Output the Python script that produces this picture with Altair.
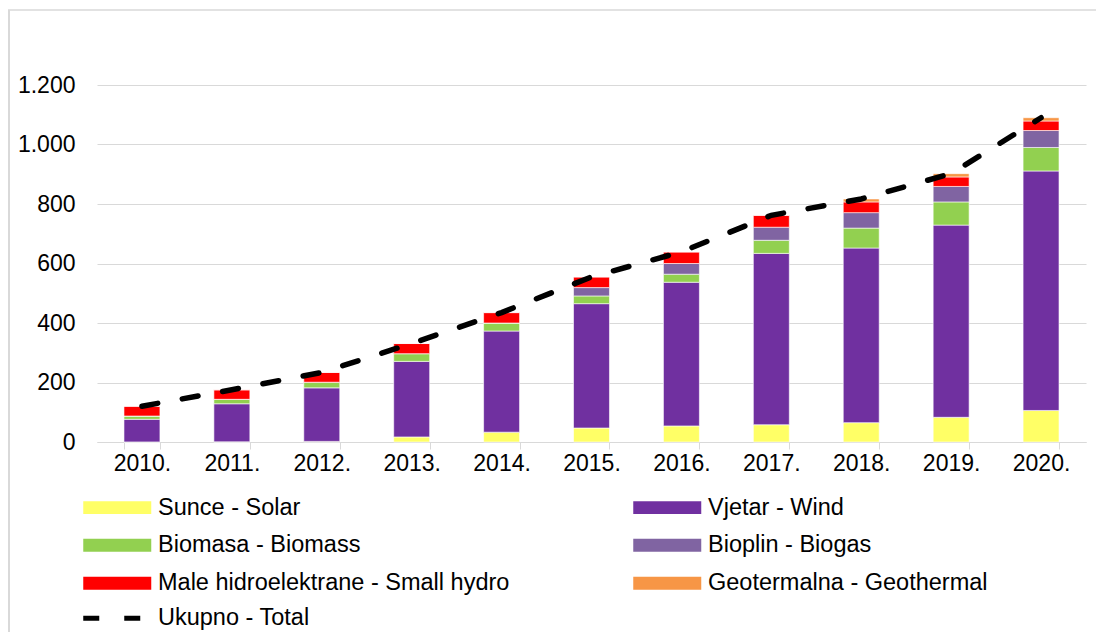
import altair as alt
import pandas as pd

years = ["2010.", "2011.", "2012.", "2013.", "2014.", "2015.", "2016.", "2017.", "2018.", "2019.", "2020."]
series = ["Sunce - Solar", "Vjetar - Wind", "Biomasa - Biomass", "Bioplin - Biogas",
          "Male hidroelektrane - Small hydro", "Geotermalna - Geothermal"]
colors = ["#FFFF66", "#7030A0", "#92D050", "#8064A2", "#FF0000", "#F79646"]

solar = [0.3, 0.5, 2, 17, 33, 47, 54, 58, 65, 83, 106]
wind = [76, 128, 180, 254, 340, 418, 483, 576, 587, 646, 805]
biomass = [11, 15, 19, 26, 27, 26, 27, 44, 67, 78, 79]
biogas = [0, 0, 0, 0, 0, 28, 36, 44, 52, 52, 57]
hydro = [33, 32, 33, 34, 35, 36, 39, 40, 36, 32, 32]
geothermal = [0, 0, 0, 0, 0, 0, 0, 0, 10, 11, 11]
total_label = "Ukupno - Total"

values = [solar, wind, biomass, biogas, hydro, geothermal]
rows = []
for si, (name, vals) in enumerate(zip(series, values)):
    for yi, y in enumerate(years):
        rows.append({"year": y, "series": name, "value": vals[yi], "idx": si})
df = pd.DataFrame(rows)

totals = [sum(v[i] for v in values) for i in range(len(years))]
tdf = pd.DataFrame({"year": years, "total": totals, "kind": [total_label] * len(years)})

# legend is filled column by column: put the reference's row-major order into columns
legend_order = [0, 2, 4, 1, 3, 5]
leg_domain = [series[i] for i in legend_order]
leg_range = [colors[i] for i in legend_order]

FONT = "Liberation Sans"
GRID = "#d9d9d9"

x_enc = alt.X("year:N", sort=years, title=None,
              scale=alt.Scale(paddingInner=0.6, paddingOuter=0.3),
              axis=alt.Axis(labelAngle=0, labelFontSize=23, labelFont=FONT, labelColor="#000000",
                            labelPadding=3, tickBand="extent", tickSize=7, tickColor=GRID,
                            domainColor=GRID, grid=False))

bars = alt.Chart(df).mark_bar(stroke="white", strokeWidth=0.6).encode(
    x=x_enc,
    y=alt.Y("value:Q", stack="zero", title=None,
            scale=alt.Scale(domain=[0, 1200], nice=False),
            axis=alt.Axis(values=[0, 200, 400, 600, 800, 1000, 1200],
                          labelExpr="replace(format(datum.value, ','), ',', '.')",
                          labelFontSize=23, labelFont=FONT, labelColor="#000000",
                          labelPadding=22, ticks=False, domain=False,
                          gridColor=GRID, gridWidth=1)),
    color=alt.Color("series:N", scale=alt.Scale(domain=leg_domain, range=leg_range),
                    legend=alt.Legend(orient="none", legendX=-14, legendY=410.5, columns=2,
                                      columnPadding=123, rowPadding=13, title=None,
                                      symbolType="M-4,-0.76H4V0.76H-4Z", symbolSize=289,
                                      symbolOffset=22.5, labelOffset=29, symbolStrokeWidth=0,
                                      symbolOpacity=1, labelFontSize=23.5, labelFont=FONT,
                                      labelColor="#000000", labelLimit=700, padding=0)),
    order=alt.Order("idx:Q", sort="ascending"),
)

line = alt.Chart(tdf).mark_line(color="black", strokeWidth=5.5, strokeCap="round").encode(
    x=alt.X("year:N", sort=years),
    y=alt.Y("total:Q"),
    strokeDash=alt.StrokeDash("kind:N", scale=alt.Scale(domain=[total_label], range=[[16, 25]]),
                              legend=alt.Legend(orient="none", legendX=-14, legendY=521.5, title=None,
                                                symbolType="M-4,0H4", symbolSize=289,
                                                symbolOffset=22.5, labelOffset=29,
                                                symbolStrokeWidth=5, symbolStrokeColor="black",
                                                symbolDash=[20, 20],
                                                labelFontSize=23.5, labelFont=FONT,
                                                labelColor="#000000", padding=0)),
)

frame_df = pd.DataFrame({"a": [0]})
frame_top = alt.Chart(frame_df).mark_rule(color=GRID, strokeWidth=1.5).encode(
    x=alt.value(-89), x2=alt.value(1010), y=alt.value(-75))
frame_left = alt.Chart(frame_df).mark_rule(color=GRID, strokeWidth=2).encode(
    x=alt.value(-88), y=alt.value(-75), y2=alt.value(560))

chart = alt.layer(frame_top, frame_left, bars, line).resolve_scale(
    strokeDash="independent"
).properties(
    width=989, height=357,
    autosize=alt.AutoSizeParams(type="none"),
    padding={"left": 89, "top": 77, "right": 10, "bottom": 190},
).configure_view(stroke=None)

chart.save("out.html", embed_options={"renderer": "svg", "actions": False})
